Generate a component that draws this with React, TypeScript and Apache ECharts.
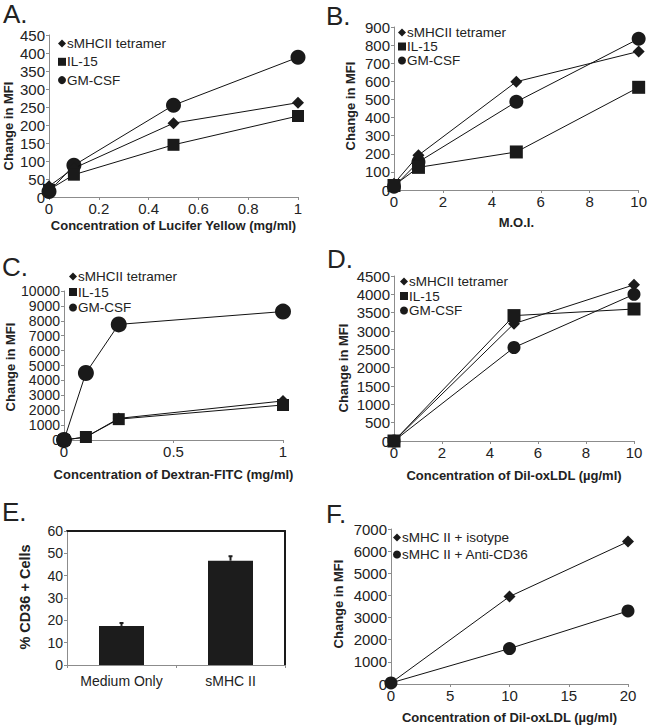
import React, { useEffect, useRef } from "react";
import * as echarts from "echarts";

const FONT = "'Liberation Sans', Arial, sans-serif";

// Panel A
const aX = [0, 0.1, 0.5, 1];
const aTet = [30, 80, 205, 262];
const aIL15 = [20, 62, 145, 225];
const aGM = [15, 88, 255, 388];
// Panel B
const bX = [0, 1, 5, 10];
const bTet = [35, 192, 598, 765];
const bIL15 = [25, 125, 210, 567];
const bGM = [18, 155, 487, 835];
// Panel C
const cX = [0, 0.1, 0.25, 1];
const cTet = [0, 200, 1450, 2620];
const cIL15 = [0, 200, 1400, 2350];
const cGM = [0, 4500, 7760, 8620];
// Panel D
const dX = [0, 5, 10];
const dTet = [0, 3200, 4260];
const dIL15 = [0, 3420, 3600];
const dGM = [0, 2550, 4000];
// Panel E
const eCats = ["Medium Only", "sMHC II"];
const eVals = [17.5, 46.7];
const eErr = [1.3, 2.0];
// Panel F
const fX = [0, 10, 20];
const fIso = [50, 3950, 6430];
const fAnti = [50, 1600, 3300];

const NAMES = ["sMHCII tetramer", "IL-15", "GM-CSF"];

const AXIS_GRAY = "#8c8c8c";
const TXT = "#222";
const MARK = "#1a1a1a";

const plain = (v: number) => String(Math.round(v * 1000) / 1000);

function valAxis(gridIndex: number, min: number, max: number, interval: number, fontSize = 15, extra: any = {}) {
  return {
    type: "value",
    gridIndex,
    min,
    max,
    interval,
    axisLine: { show: true, onZero: false, lineStyle: { color: AXIS_GRAY, width: 1 } },
    axisTick: { show: true, length: 3, lineStyle: { color: AXIS_GRAY } },
    splitLine: { show: false },
    axisLabel: { fontSize, lineHeight: fontSize, color: TXT, fontFamily: FONT, margin: 4, formatter: plain },
    ...extra,
  };
}

function xTitle(name: string, gap: number) {
  return {
    name,
    nameLocation: "middle",
    nameGap: gap,
    nameTextStyle: { fontSize: 13, fontWeight: "bold", color: TXT, fontFamily: FONT },
  };
}

function lineSeries(idx: number, name: string, xs: number[], ys: number[], symbol: string, size: number, z: number) {
  return {
    type: "line",
    name,
    xAxisIndex: idx,
    yAxisIndex: idx,
    data: xs.map((x, j) => [x, ys[j]]),
    symbol,
    symbolSize: size,
    clip: false,
    z,
    lineStyle: { color: "#111", width: 1 },
    itemStyle: { color: MARK, borderWidth: 0 },
    color: MARK,
    emphasis: { disabled: true },
  };
}

function legend(left: number, top: number, gap: number, items: { name: string; icon: string }[]) {
  return {
    orient: "vertical",
    left,
    top,
    padding: 0,
    itemGap: gap,
    itemWidth: 8,
    itemHeight: 8,
    selectedMode: false,
    textStyle: { fontSize: 13.5, color: TXT, fontFamily: FONT, padding: [0, 0, 0, -4] },
    data: items.map((it) => ({ name: it.name, icon: it.icon, itemStyle: { color: MARK } })),
  };
}

function letter(text: string, x: number, y: number) {
  return {
    type: "text",
    x,
    y,
    style: { text, font: `26px ${FONT}`, fill: "#222", align: "left", verticalAlign: "middle" },
  };
}

function yTitle(text: string, x: number, y: number, size = 13) {
  return {
    type: "text",
    x,
    y,
    rotation: Math.PI / 2,
    style: { text, font: `bold ${size}px ${FONT}`, fill: TXT, align: "center", verticalAlign: "middle" },
  };
}

const stdLegend = [
  { name: NAMES[0], icon: "diamond" },
  { name: NAMES[1], icon: "rect" },
  { name: NAMES[2], icon: "circle" },
];

export default function App() {
  const ref = useRef<HTMLDivElement>(null);
  useEffect(() => {
    if (!ref.current) return;
    const chart = echarts.init(ref.current, undefined, { renderer: "svg" });
    const option: any = {
      animation: false,
      backgroundColor: "#fff",
      textStyle: { fontFamily: FONT },
      grid: [
        { left: 49, top: 35, width: 249, height: 162 },
        { left: 394, top: 27, width: 245, height: 163 },
        { left: 64, top: 291, width: 219, height: 149 },
        { left: 394, top: 276, width: 240, height: 165 },
        { left: 67, top: 531, width: 218, height: 134 },
        { left: 391, top: 529, width: 237, height: 155 },
      ],
      xAxis: [
        valAxis(0, 0, 1, 0.2, 15, xTitle("Concentration of Lucifer Yellow (mg/ml)", 22)),
        valAxis(1, 0, 10, 2, 15, xTitle("M.O.I.", 26)),
        valAxis(2, 0, 1, 0.5, 15, xTitle("Concentration of Dextran-FITC (mg/ml)", 28)),
        valAxis(3, 0, 10, 2, 15, xTitle("Concentration of Dil-oxLDL (\u00b5g/ml)", 28)),
        {
          type: "category",
          gridIndex: 4,
          data: eCats,
          axisLine: { show: true, onZero: false, lineStyle: { color: AXIS_GRAY, width: 1 } },
          axisTick: { show: true, length: 3, lineStyle: { color: AXIS_GRAY } },
          axisLabel: { fontSize: 14, color: TXT, fontFamily: FONT, margin: 9 },
        },
        valAxis(5, 0, 20, 5, 15, xTitle("Concentration of Dil-oxLDL (\u00b5g/ml)", 27)),
        {
          type: "category",
          gridIndex: 4,
          position: "top",
          data: eCats,
          axisLine: { show: true, onZero: false, lineStyle: { color: "#1a1a1a", width: 2 } },
          axisTick: { show: false },
          axisLabel: { show: false },
        },
      ],
      yAxis: [
        valAxis(0, 0, 450, 50),
        valAxis(1, 0, 900, 100),
        valAxis(2, 0, 10000, 1000, 14),
        valAxis(3, 0, 4500, 500),
        valAxis(4, 0, 60, 10, 14),
        valAxis(5, 0, 7000, 1000),
        {
          type: "value",
          gridIndex: 4,
          position: "right",
          min: 0,
          max: 60,
          interval: 10,
          axisLine: { show: true, onZero: false, lineStyle: { color: "#1a1a1a", width: 2 } },
          axisTick: { show: false },
          axisLabel: { show: false },
          splitLine: { show: false },
        },
      ],
      legend: [
        legend(58, 36.5, 4.3, stdLegend),
        legend(398, 25.5, 0, stdLegend),
        legend(69, 269.5, 1.5, stdLegend),
        legend(400, 274.5, 0.5, stdLegend),
        legend(393, 530.5, 3, [
          { name: "sMHC II + isotype", icon: "diamond" },
          { name: "sMHC II + Anti-CD36", icon: "circle" },
        ]),
      ],
      series: [
        lineSeries(0, NAMES[0], aX, aTet, "diamond", 12, 3),
        lineSeries(0, NAMES[1], aX, aIL15, "rect", 12, 4),
        lineSeries(0, NAMES[2], aX, aGM, "circle", 15, 2),
        lineSeries(1, NAMES[0], bX, bTet, "diamond", 12, 3),
        lineSeries(1, NAMES[1], bX, bIL15, "rect", 13, 4),
        lineSeries(1, NAMES[2], bX, bGM, "circle", 14, 2),
        lineSeries(2, NAMES[0], cX, cTet, "diamond", 12, 3),
        lineSeries(2, NAMES[1], cX, cIL15, "rect", 12, 4),
        lineSeries(2, NAMES[2], cX, cGM, "circle", 16, 2),
        lineSeries(3, NAMES[0], dX, dTet, "diamond", 12, 3),
        lineSeries(3, NAMES[1], dX, dIL15, "rect", 13, 4),
        lineSeries(3, NAMES[2], dX, dGM, "circle", 13, 2),
        {
          type: "bar",
          xAxisIndex: 4,
          yAxisIndex: 4,
          data: eVals,
          barWidth: 45,
          itemStyle: { color: "#1c1c1c" },
          emphasis: { disabled: true },
        },
        {
          type: "custom",
          xAxisIndex: 4,
          yAxisIndex: 4,
          data: eVals.map((v, i) => [i, v, eErr[i]]),
          encode: { x: 0, y: 1 },
          z: 5,
          renderItem: (params: any, api: any) => {
            const i = api.value(0);
            const v = api.value(1);
            const e = api.value(2);
            const base = api.coord([i, v]);
            const top = api.coord([i, v + e]);
            return {
              type: "group",
              children: [
                {
                  type: "line",
                  shape: { x1: base[0], y1: base[1], x2: top[0], y2: top[1] },
                  style: { stroke: "#1c1c1c", lineWidth: 2 },
                },
                {
                  type: "line",
                  shape: { x1: top[0] - 2, y1: top[1], x2: top[0] + 2, y2: top[1] },
                  style: { stroke: "#1c1c1c", lineWidth: 2 },
                },
              ],
            };
          },
        },
        lineSeries(5, "sMHC II + isotype", fX, fIso, "diamond", 12, 3),
        lineSeries(5, "sMHC II + Anti-CD36", fX, fAnti, "circle", 13, 2),
      ],
      graphic: [
        letter("A.", 3, 14),
        letter("B.", 326, 16),
        letter("C.", 2, 267),
        letter("D.", 327, 259),
        letter("E.", 2, 512),
        letter("F.", 326, 514),
        yTitle("Change in MFI", 8, 126),
        yTitle("Change in MFI", 350, 106),
        yTitle("Change in MFI", 10, 367),
        yTitle("Change in MFI", 343, 368),
        yTitle("% CD36 + Cells", 25, 597, 14.5),
        yTitle("Change in MFI", 338, 604),
      ],
    };
    chart.setOption(option);
    return () => chart.dispose();
  }, []);
  return <div ref={ref} style={{ position: "absolute", left: 0, top: 0, width: 650, height: 727 }} />;
}
